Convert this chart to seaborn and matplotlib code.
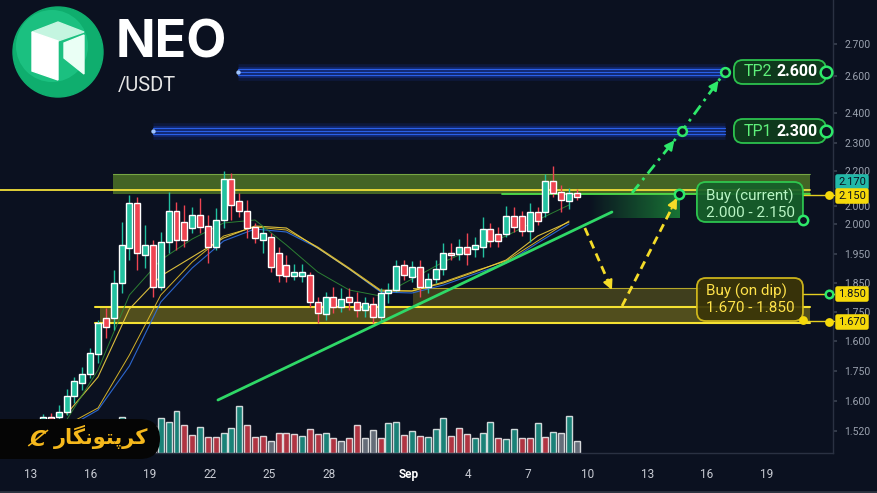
import matplotlib
matplotlib.use("Agg")
import matplotlib.pyplot as plt
import matplotlib.transforms as mtransforms
from matplotlib.colors import to_rgb
from matplotlib.patches import FancyBboxPatch, Circle, Polygon
import numpy as np
import seaborn as sns

BG = "#0b1120"
UP = "#22c1a0"
DOWN = "#ef4452"
GREEN = "#2ee86a"
YELLOW = "#f5dc28"

# NEO/USDT candles (price units of the chart axis)
opens = [1.575, 1.581, 1.581, 1.596, 1.644, 1.683, 1.710, 1.770, 1.878, 1.878,
         1.983, 2.088, 2.223, 2.067, 2.097, 1.971, 2.106, 2.199, 2.166, 2.148,
         2.187, 2.154, 2.091, 2.172, 2.295, 2.229, 2.199, 2.151, 2.112, 2.121,
         2.073, 2.037, 2.004, 2.004, 2.007, 1.926, 1.890, 1.941, 1.911, 1.941,
         1.926, 1.902, 1.920, 1.881, 1.953, 1.962, 2.037, 2.001, 2.031, 1.971,
         1.995, 2.025, 2.073, 2.070, 2.091, 2.085, 2.091, 2.145, 2.130, 2.130,
         2.184, 2.184, 2.139, 2.196, 2.196, 2.289, 2.256, 2.229, 2.253]
closes = [1.581, 1.575, 1.596, 1.644, 1.689, 1.710, 1.773, 1.863, 1.851, 1.983,
          2.097, 2.223, 2.073, 2.097, 1.971, 2.106, 2.199, 2.112, 2.112, 2.187,
          2.151, 2.091, 2.172, 2.295, 2.217, 2.199, 2.148, 2.118, 2.133, 2.031,
          2.007, 2.004, 2.016, 2.016, 1.926, 1.893, 1.941, 1.911, 1.935, 1.926,
          1.902, 1.923, 1.881, 1.953, 1.962, 2.034, 2.007, 2.031, 1.971, 1.995,
          2.025, 2.073, 2.067, 2.091, 2.070, 2.097, 2.145, 2.109, 2.109, 2.184,
          2.151, 2.139, 2.196, 2.169, 2.289, 2.253, 2.232, 2.253, 2.241]
highs = [1.590, 1.593, 1.617, 1.665, 1.701, 1.731, 1.788, 1.872, 1.908, 2.022,
         2.166, 2.247, 2.241, 2.157, 2.112, 2.136, 2.256, 2.226, 2.217, 2.211,
         2.238, 2.187, 2.208, 2.319, 2.313, 2.253, 2.232, 2.163, 2.151, 2.133,
         2.091, 2.067, 2.040, 2.040, 2.016, 1.941, 1.956, 1.971, 1.968, 1.968,
         1.956, 1.941, 1.941, 1.968, 1.983, 2.052, 2.052, 2.049, 2.052, 2.013,
         2.052, 2.103, 2.103, 2.115, 2.133, 2.121, 2.181, 2.163, 2.151, 2.214,
         2.211, 2.199, 2.223, 2.211, 2.310, 2.334, 2.277, 2.268, 2.265]
lows = [1.569, 1.569, 1.572, 1.587, 1.623, 1.662, 1.698, 1.743, 1.818, 1.842,
        1.953, 2.052, 2.022, 2.028, 1.941, 1.962, 2.073, 2.082, 2.091, 2.133,
        2.133, 2.043, 2.082, 2.148, 2.172, 2.181, 2.118, 2.103, 2.073, 2.016,
        1.986, 1.986, 1.992, 1.986, 1.911, 1.863, 1.872, 1.893, 1.896, 1.902,
        1.881, 1.881, 1.863, 1.866, 1.923, 1.956, 1.992, 1.986, 1.941, 1.953,
        1.983, 2.007, 2.052, 2.052, 2.037, 2.061, 2.061, 2.091, 2.091, 2.121,
        2.136, 2.124, 2.106, 2.157, 2.181, 2.241, 2.196, 2.205, 2.232]
volumes = [5, 4, 7, 9, 12, 11, 16, 20, 14, 28, 36, 33, 30, 18, 27, 35,
           31, 42, 28, 18, 26, 16, 16, 20, 25, 47, 28, 16, 17, 12, 20, 20, 19, 17, 24, 19,
           20, 15, 12, 15, 28, 15, 23, 15, 30, 31, 18, 22, 17, 16, 24, 35, 17, 25, 19, 15,
           20, 31, 15, 14, 24, 15, 15, 30, 16, 21, 20, 37, 12]
volume_side = list("trttttttrtttrtrt" "ttrrtrrttt" "rrrgrrrtrr" "trgrrggrtt"
                   "rtrtttrrrt" "ttrttrrtrt" "gtg")

# moving averages read at every 4th candle
ma_index = [3, 7, 11, 15, 19, 23, 27, 31, 35, 39, 43, 47, 51, 55, 59, 63, 67]
ma_green = [1.572, 1.722, 1.947, 2.052, 2.115, 2.163, 2.172, 2.097, 2.016, 1.962,
            1.944, 1.995, 2.046, 2.088, 2.124, 2.172, 2.217]
ma_yellow_fast = [1.590, 1.701, 1.905, 2.004, 2.061, 2.118, 2.154, 2.148, 2.088, 2.025,
                  1.959, 1.959, 1.983, 2.016, 2.052, 2.124, 2.166]
ma_yellow_slow = [1.557, 1.608, 1.767, 1.947, 2.046, 2.124, 2.151, 2.142, 2.091, 2.028,
                  1.962, 1.959, 1.986, 2.019, 2.049, 2.109, 2.169]
ma_blue = [1.548, 1.602, 1.734, 1.926, 2.028, 2.109, 2.145, 2.136, 2.088, 2.025,
           1.956, 1.953, 1.977, 2.010, 2.043, 2.103, 2.160]

price_ticks = [2.700, 2.604, 2.493, 2.403, 2.319, 2.214, 2.160, 2.070, 1.983,
               1.896, 1.809, 1.719, 1.629, 1.539]
price_labels = ["2.700", "2.600", "2.400", "2.300", "2.200", "2.000", "2.000", "1.950",
                "1.850", "1.750", "1.600", "1.750", "1.600", "1.520"]
date_ticks = [0, 3, 6, 9, 12, 15, 19, 22, 25, 28, 31, 34, 37]
date_labels = ["13", "16", "19", "22", "25", "28", "Sep", "4", "7", "10", "13", "16", "19"]

# key levels
tp2, tp1 = 2.616, 2.439
resist_lo, resist_hi, current_line = 2.250, 2.310, 2.262
buy_lo, buy_hi = 2.178, 2.247
dip_lo, dip_mid, dip_hi = 1.863, 1.911, 1.968

first_day, step = 0.63, 0.3945


def main():
    sns.set_theme(style="dark", rc={"axes.facecolor": BG, "figure.facecolor": BG})
    plt.rcParams["font.family"] = ["Roboto", "DejaVu Sans"]

    fig = plt.figure(figsize=(8.77, 4.93), dpi=100)
    rect = [0, 40 / 493, 833 / 877, 453 / 493]
    axv = fig.add_axes(rect)
    ax = fig.add_axes(rect, sharex=axv)
    ax.patch.set_visible(False)

    n = len(opens)
    days = first_day + step * np.arange(n)
    o, c = np.array(opens), np.array(closes)
    cols = [UP if cc >= oo else DOWN for oo, cc in zip(o, c)]

    # volume
    vcol = {"t": "#1f9e8e", "r": "#d93d4b", "g": "#7d8590"}
    axv.bar(days, volumes, width=0.3, color=[vcol[s] for s in volume_side], alpha=0.8)
    axv.set_ylim(0, 453)
    axv.set_axis_off()

    # zones
    ax.fill_between([4.15, 39.17], resist_lo, resist_hi, color="#7cb82a", alpha=0.5, lw=0, zorder=1)
    ax.plot([4.15, 39.17], [resist_hi] * 2, color="#9bd45a", lw=0.8, alpha=0.6, zorder=1)
    ax.plot([23.69, 39.17], [resist_lo] * 2, color="#4fe04a", lw=1.3, zorder=2)
    ax.fill_between([3.49, 39.17], dip_lo, dip_mid, color="#d4c21a", alpha=0.35, lw=0, zorder=1)
    ax.fill_between([19.22, 33.64], dip_mid, dip_hi, color="#b8a818", alpha=0.3, lw=0, zorder=1)
    ax.plot([19.22, 33.64], [dip_hi] * 2, color="#e8d430", lw=0.8, alpha=0.7, zorder=1)
    for lvl in (dip_lo, dip_mid):
        ax.plot([3.24, 39.17], [lvl] * 2, color="#f5e132", lw=1.5, zorder=2)

    grad = np.zeros((1, 60, 4))
    grad[..., :3] = to_rgb("#1e9e3e")
    grad[..., 3] = np.linspace(0, 0.7, 60)
    ax.imshow(grad, extent=[28.0, 32.59, buy_lo, buy_hi], aspect="auto",
              interpolation="bilinear", zorder=1)

    # TP bands with glow
    for lvl, x0 in ((tp2, 10.43), (tp1, 6.16)):
        for lw, a in ((12, 0.12), (8, 0.22)):
            ax.plot([x0, 34.9], [lvl] * 2, color="#1f4fff", lw=lw, alpha=a, solid_capstyle="butt")
        for off in (-0.010, 0, 0.010):
            ax.plot([x0, 34.9], [lvl + off] * 2, color="#2f6bff", lw=0.9, alpha=0.85)
        ax.scatter([x0], [lvl], s=10, color="#9fc4ff", zorder=3, lw=0)

    # current price line
    ax.plot([-1.6, 39.17], [current_line] * 2, color="#f2e03a", lw=1.3, zorder=2)

    # moving averages
    ma_days = first_day + step * np.array(ma_index)
    for vals, col, lw in ((ma_blue, "#2f6fe0", 0.8), (ma_yellow_slow, "#e8c22a", 0.7),
                          (ma_yellow_fast, "#f0d040", 0.8), (ma_green, "#2f8a35", 0.7)):
        sns.lineplot(x=ma_days, y=vals, ax=ax, color=col, lw=lw, alpha=0.9, zorder=2)

    # candles
    ax.vlines(days, lows, highs, colors=cols, lw=1, zorder=3)
    ax.bar(days, np.maximum(np.abs(c - o), 0.004), bottom=np.minimum(o, c),
           width=0.3, color=cols, zorder=4)

    # trend line
    ax.plot([9.42, 29.22], [1.632, 2.196], color="#2fd867", lw=2, zorder=5)

    # arrows
    dashdot = (0, (4, 2, 1, 2))
    ax.plot([30.23, 32.74, 34.9], [2.253, tp1, tp2], color=GREEN, lw=2, ls=dashdot, zorder=6)
    ax.plot([27.86, 29.22], [2.148, 1.962], color=YELLOW, lw=2, ls=(0, (3, 2)), zorder=6)
    ax.plot([29.73, 32.49], [1.914, 2.238], color=YELLOW, lw=2, ls=(0, (3, 2)), zorder=6)
    heads = [((32.36, 2.411), (32.19, 2.398), GREEN), ((34.58, 2.590), (34.47, 2.581), GREEN),
             ((29.22, 1.962), (29.08, 1.981), YELLOW), ((32.49, 2.238), (32.21, 2.206), YELLOW)]
    for xy, xyt, col in heads:
        ax.annotate("", xy=xy, xytext=xyt, zorder=7,
                    arrowprops=dict(arrowstyle="-|>", color=col, lw=1.5, mutation_scale=14,
                                    shrinkA=0, shrinkB=0))

    # label boxes
    asp = 0.003 * 19.9
    boxes = [(35.35, tp2 - 0.036, 4.62, 0.072, "#0f3d1c", "#2fcf52"),
             (35.35, tp1 - 0.036, 4.62, 0.072, "#0f3d1c", "#2fcf52"),
             (33.49, 2.166, 5.33, 0.120, "#16602a", "#2fcf52"),
             (33.49, 1.869, 5.33, 0.129, "#3b3608", "#d9bf1c")]
    for x, y, w, h, fc, ec in boxes:
        ax.add_patch(FancyBboxPatch((x, y), w, h, boxstyle="round,pad=0,rounding_size=0.45",
                                    mutation_aspect=asp, fc=fc, ec=ec, lw=1.3, alpha=0.92, zorder=8))
    for lvl, name, val in ((tp2, "TP2", "2.600"), (tp1, "TP1", "2.300")):
        ax.text(35.85, lvl, name, color="#5ef07a", fontsize=11.5, va="center", zorder=9)
        ax.text(37.5, lvl, val, color="white", fontsize=11.5, weight="bold", va="center", zorder=9)
    ax.text(33.94, 2.244, "Buy (current)", color="#b9f5c4", fontsize=11, va="center", zorder=9)
    ax.text(33.94, 2.193, "2.000 - 2.150", color="#b9f5c4", fontsize=11, va="center", zorder=9)
    ax.text(33.94, 1.959, "Buy (on dip)", color="#ffe24a", fontsize=11, va="center", zorder=9)
    ax.text(33.94, 1.908, "1.670 - 1.850", color="#ffe24a", fontsize=11, va="center", zorder=9)

    # connectors to price scale
    for lvl in (2.247, 1.950, 1.869):
        ax.plot([38.82, 40.4], [lvl] * 2, color="#e6cf20", lw=1, zorder=7, clip_on=False)

    rings = [(32.74, tp1, 40), (34.9, tp2, 40), (32.59, 2.250, 45), (38.82, 2.172, 45),
             (39.97, tp2, 70), (39.97, tp1, 70), (40.13, 1.950, 30)]
    for x, y, s in rings:
        ax.scatter([x], [y], s=s, fc=BG, ec=GREEN, lw=1.8, zorder=10, clip_on=False)
    for x, y in ((38.82, 1.872), (40.13, 1.866), (40.13, 2.247)):
        ax.scatter([x], [y], s=40, color="#f5d90a", zorder=10, lw=0, clip_on=False)

    # price scale tags
    tr = mtransforms.blended_transform_factory(fig.transFigure, ax.transData)
    for lvl, txt, fc in ((2.286, "2.170", "#22b8a8"), (2.244, "2.150", "#f5d90a"),
                         (1.950, "1.850", "#f5d90a"), (1.866, "1.670", "#f5d90a")):
        ax.text(0.9715, lvl, txt, transform=tr, ha="center", va="center", fontsize=8,
                color="#0b1120", zorder=11, clip_on=False,
                bbox=dict(boxstyle="round,pad=0.25,rounding_size=0.2", fc=fc, ec="none"))

    # axes
    ax.set_xlim(-1.533, 40.33)
    ax.set_ylim(1.473, 2.832)
    ax.yaxis.tick_right()
    ax.set_yticks(price_ticks, price_labels)
    ax.set_xticks(date_ticks, date_labels)
    ax.tick_params(axis="y", length=3, color="#3a4150", pad=5, labelsize=7.5, labelcolor="#9aa1ae")
    ax.tick_params(axis="x", length=0, pad=11, labelsize=8.5, labelcolor="#c9ccd4")
    sep = ax.get_xticklabels()[6]
    sep.set_fontweight("bold")
    sep.set_color("white")
    ax.grid(False)
    for side in ("left", "top"):
        ax.spines[side].set_visible(False)
    for side in ("right", "bottom"):
        ax.spines[side].set_color("#2a3142")
        ax.spines[side].set_linewidth(1)
    ax.set_xlabel(None)
    ax.set_ylabel(None)

    # overlay: logo, title, badge
    ov = fig.add_axes([0, 0, 1, 1], zorder=5)
    ov.set_xlim(0, 877)
    ov.set_ylim(493, 0)
    ov.set_axis_off()
    ov.patch.set_visible(False)
    ov.add_patch(Circle((58, 52), 45, color="#0fae6e"))
    ov.add_patch(Circle((52, 46), 36, color="#2ad896", alpha=0.45, lw=0))
    ov.add_patch(Polygon([(32, 32), (58, 22), (84, 32), (58, 41)], color="#c4f5e0"))
    ov.add_patch(Polygon([(32, 32), (58, 41), (58, 80), (32, 71)], color="white"))
    ov.add_patch(Polygon([(64, 43), (84, 35), (84, 74), (64, 58)], color="#eafff5"))
    ov.text(116, 44, "NEO", color="white", fontsize=37.5, weight="bold", va="center",
            family=["Inter", "DejaVu Sans"])
    ov.text(118, 86, "/USDT", color="#e6e6e6", fontsize=14.5, va="center")

    ov.add_patch(FancyBboxPatch((-30, 419), 190, 40, boxstyle="round,pad=0,rounding_size=20",
                                fc="#050505", ec="none"))
    persian = "\ufead\ufe8e\ufb95\ufee7\ufeee\ufe98\ufb58\ufeae\ufb90"
    ov.text(101, 437, persian, color="#f5b81c", fontsize=15, weight="bold",
            ha="center", va="center", family=["DejaVu Sans"])
    ov.text(37, 440, "\u023b", color="#f5b81c", fontsize=16, weight="bold", style="italic",
            ha="center", va="center", family=["DejaVu Sans"])
    ov.plot([0, 877], [491.5, 491.5], color="#2c3340", lw=2)

    fig.savefig("out.png", dpi=100, facecolor=BG)


if __name__ == "__main__":
    main()
